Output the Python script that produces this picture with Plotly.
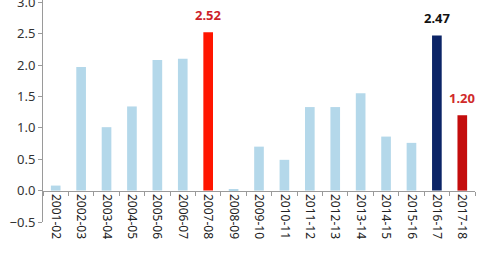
import plotly.graph_objects as go

categories = ["2001-02", "2002-03", "2003-04", "2004-05", "2005-06", "2006-07", "2007-08",
              "2008-09", "2009-10", "2010-11", "2011-12", "2012-13", "2013-14", "2014-15",
              "2015-16", "2016-17", "2017-18"]
values = [0.08, 1.97, 1.01, 1.34, 2.08, 2.10, 2.52,
          0.01, 0.70, 0.49, 1.33, 1.33, 1.55, 0.86,
          0.76, 2.47, 1.20]
colors = ["#b4d8ea"] * 17
colors[6] = "#ff1500"
colors[15] = "#0b2466"
colors[16] = "#c40d0d"

labelled = {"2007-08": ("2.52", "#cc1f2a"), "2016-17": ("2.47", "#111111"), "2017-18": ("1.20", "#d02a2a")}

yrange = [-0.5, 3.035]

fig = go.Figure(go.Bar(x=categories, y=values, marker_color=colors, marker_line_width=0,
                       width=0.38))

for cat, (txt, col) in labelled.items():
    v = values[categories.index(cat)]
    fig.add_annotation(x=cat, y=v, text="<b>%s</b>" % txt, showarrow=False, yanchor="bottom",
                       yshift=6, font=dict(family="Noto Sans", size=13, color=col))

fig.update_layout(
    width=494, height=253,
    margin=dict(l=43, r=19, t=0, b=31),
    plot_bgcolor="white", paper_bgcolor="white",
    showlegend=False,
    font=dict(family="Noto Sans", color="#333333"),
    xaxis=dict(type="category", anchor="free", position=(0 - yrange[0]) / (yrange[1] - yrange[0]),
               showline=True, linecolor="#9a9a9a", linewidth=1, automargin=False,
               ticks="outside", ticklen=4, tickcolor="#9a9a9a", tickson="boundaries",
               tickangle=90, tickfont=dict(size=12, color="#222222"), showgrid=False,
               range=[-0.5, 16.5]),
    yaxis=dict(range=yrange, tickmode="array", tickvals=[-0.5, 0, 0.5, 1.0, 1.5, 2.0, 2.5, 3.0],
               tickformat=".1f", showgrid=False, zeroline=False, ticklabeloverflow="allow",
               automargin=False,
               showline=True, linecolor="#9a9a9a", linewidth=1,
               ticks="outside", ticklen=4, tickcolor="#9a9a9a",
               tickfont=dict(size=13, color="#333333")),
)

fig.write_html("out.html")
